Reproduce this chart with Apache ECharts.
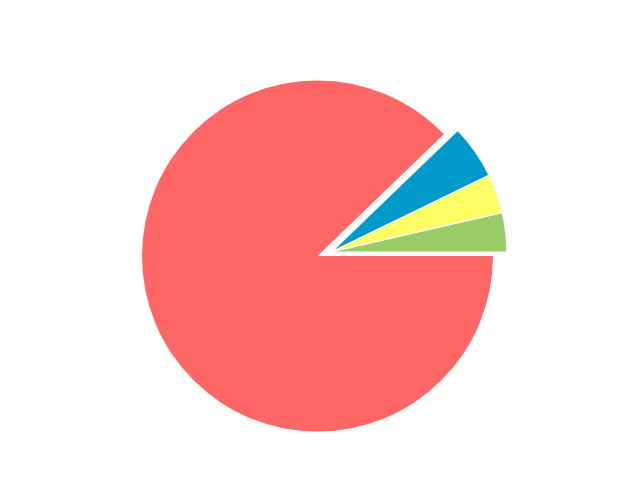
<!DOCTYPE html>
<html>
<head>
<meta charset="utf-8">
<script src="https://cdn.jsdelivr.net/npm/echarts@6/dist/echarts.min.js"></script>
<style>
html,body{margin:0;padding:0;background:#fff;}
#chart{width:640px;height:495px;}
</style>
</head>
<body>
<div id="chart"></div>
<script>
const categories = ['A', 'B', 'C', 'D'];
const values = [87.8, 5, 3.6, 3.6];
const colors = ['#FF6666', '#0099CC', '#FFFF66', '#99CC66'];
const exploded = [false, true, true, true];

const center = [317.5, 256];
const groupShift = [13.8, -4];
const radius = 175.5;

function makeData(showExploded) {
  return categories.map((c, i) => {
    const visible = exploded[i] === showExploded;
    return {
      name: c,
      value: values[i],
      itemStyle: visible
        ? {color: colors[i], borderColor: '#ffffff', borderWidth: showExploded ? 1.2 : 0}
        : {color: 'rgba(0,0,0,0)', borderWidth: 0}
    };
  });
}

const base = {
  type: 'pie',
  radius: [0, radius],
  startAngle: 0,
  clockwise: true,
  silent: true,
  avoidLabelOverlap: false,
  label: {show: false},
  labelLine: {show: false},
  emphasis: {scale: false}
};

const chart = echarts.init(document.getElementById('chart'), null, {renderer: 'canvas'});
chart.setOption({
  backgroundColor: '#ffffff',
  animation: false,
  series: [
    Object.assign({}, base, {center: center, data: makeData(false)}),
    Object.assign({}, base, {center: [center[0] + groupShift[0], center[1] + groupShift[1]], data: makeData(true)})
  ]
});
</script>
</body>
</html>
